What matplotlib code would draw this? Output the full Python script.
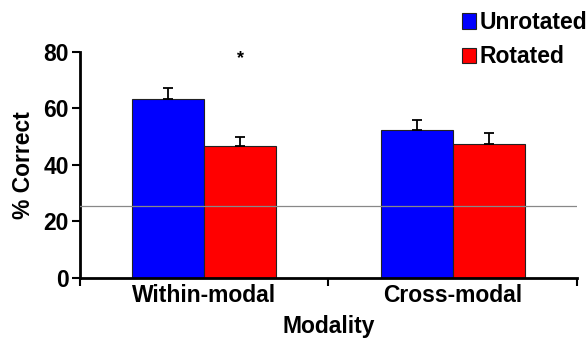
import matplotlib
matplotlib.use("Agg")
import matplotlib.pyplot as plt
import numpy as np

categories = ["Within-modal", "Cross-modal"]
unrotated = [63.4, 52.4]
unrotated_err = [3.9, 3.5]
rotated = [46.7, 47.4]
rotated_err = [3.2, 3.9]
chance = 25.5

plt.rcParams['font.family'] = ['Liberation Sans', 'DejaVu Sans']
plt.rcParams['font.weight'] = 'bold'
fs = 16.5

fig = plt.figure(figsize=(5.88, 3.39), dpi=100)
ax = fig.add_axes([0.136, 0.180, 0.845, 0.667])

x = np.arange(len(categories))
w = 0.29
ax.bar(x - w / 2, unrotated, w, color='#0000ff', edgecolor='#222222', linewidth=0.8,
       label='Unrotated', zorder=2)
ax.bar(x + w / 2, rotated, w, color='#ff0000', edgecolor='#222222', linewidth=0.8,
       label='Rotated', zorder=2)
ax.errorbar(x - w / 2, unrotated, yerr=[np.zeros(2), unrotated_err], fmt='none',
            ecolor='black', elinewidth=1.3, capsize=3.8, capthick=1.3, zorder=3)
ax.errorbar(x + w / 2, rotated, yerr=[np.zeros(2), rotated_err], fmt='none',
            ecolor='black', elinewidth=1.3, capsize=3.8, capthick=1.3, zorder=3)

ax.axhline(chance, color='#888888', linewidth=0.9, zorder=4)
ax.text(w / 2, 77.5, '*', ha='center', va='center', fontsize=13, fontweight='bold')

ax.set_xlim(-0.5, 1.5)
ax.set_ylim(0, 80)
ax.set_yticks([0, 20, 40, 60, 80])
ax.set_xticks(x)
ax.set_xticklabels(categories)
ax.set_xticks([-0.5, 0.5, 1.5], minor=True)
ax.tick_params(axis='x', which='major', length=0, labelsize=fs, pad=4)
ax.tick_params(axis='x', which='minor', length=6, width=1.5, direction='out')
ax.tick_params(axis='y', length=6, width=1.5, labelsize=fs, pad=2)
for s in ['top', 'right']:
    ax.spines[s].set_visible(False)
for s in ['left', 'bottom']:
    ax.spines[s].set_linewidth(2)

ax.set_ylabel('% Correct', fontsize=fs, fontweight='bold', labelpad=6)
ax.set_xlabel('Modality', fontsize=fs, fontweight='bold', labelpad=6)

ax.legend(loc='upper right', bbox_to_anchor=(1.063, 1.272), frameon=False, fontsize=fs,
          handlelength=0.65, handleheight=0.65, handletextpad=0.15, labelspacing=0.5)

fig.savefig('out.png', dpi=100)
